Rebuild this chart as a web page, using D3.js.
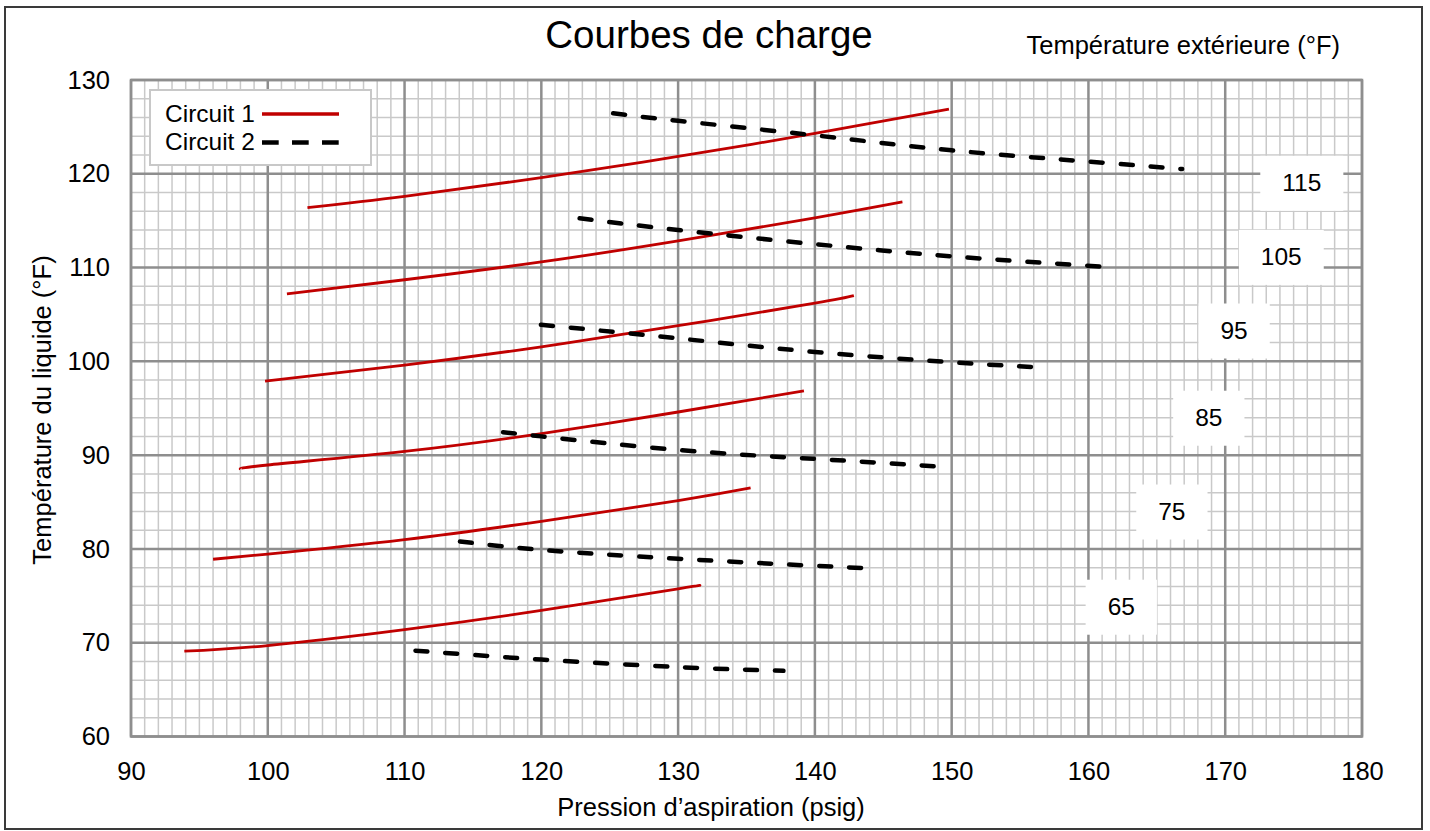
<!DOCTYPE html>
<html>
<head>
<meta charset="utf-8">
<script src="https://cdn.jsdelivr.net/npm/d3@7"></script>
<style>
  html, body { margin: 0; padding: 0; background: #fff; }
  svg { display: block; }
  text { font-family: "Liberation Sans", Arial, sans-serif; fill: #000; }
</style>
</head>
<body>
<svg id="chart" width="1430" height="831"></svg>
<script>
// ---------------- data ----------------
const title = "Courbes de charge";
const xTitle = "Pression d\u2019aspiration (psig)";
const yTitle = "Température du liquide (°F)";
const labelTitle = "Température extérieure (°F)";
const seriesNames = ["Circuit 1", "Circuit 2"];

const xTicks = [90, 100, 110, 120, 130, 140, 150, 160, 170, 180];
const yTicks = [60, 70, 80, 90, 100, 110, 120, 130];

const outdoorTemps = [65, 75, 85, 95, 105, 115];
// label anchor in data units (pressure, liquid temperature)
const labelX = [162.4, 166.1, 168.8, 170.65, 174.1, 175.6];
const labelY = [73.9, 84.05, 94.05, 103.35, 111.2, 119.1];

// Circuit 1 (solid red) : [pressure, liquid temp]
const circuit1_65  = [[93.9, 69.1], [100, 69.7], [110, 71.4], [120, 73.45], [130, 75.75], [131.35, 76.05]];
const circuit1_75  = [[96.0, 78.9], [100, 79.45], [110, 81.0], [120, 82.95], [130, 85.15], [135.3, 86.5]];
const circuit1_85  = [[98.0, 88.5], [100, 88.95], [110, 90.4], [120, 92.3], [130, 94.6], [139.2, 96.85]];
const circuit1_95  = [[99.8, 97.9], [110, 99.6], [120, 101.55], [130, 103.8], [140, 106.2], [142.85, 107.0]];
const circuit1_105 = [[101.4, 107.2], [110, 108.7], [120, 110.6], [130, 112.85], [140, 115.3], [146.4, 117.0]];
const circuit1_115 = [[102.9, 116.4], [110, 117.6], [120, 119.6], [130, 121.85], [140, 124.3], [149.8, 126.9]];

// Circuit 2 (dashed black)
const circuit2_65  = [[110.8, 69.15], [120, 68.2], [130, 67.4], [137.7, 67.0]];
const circuit2_75  = [[114.05, 80.8], [120, 79.9], [130, 78.95], [140, 78.2], [143.6, 77.95]];
const circuit2_85  = [[117.2, 92.45], [120, 92.0], [130, 90.55], [140, 89.6], [148.85, 88.8]];
const circuit2_95  = [[119.97, 103.9], [130, 102.45], [140, 101.0], [150, 99.9], [155.8, 99.4]];
const circuit2_105 = [[122.8, 115.25], [130, 114.0], [140, 112.5], [150, 111.2], [160.95, 110.1]];
const circuit2_115 = [[125.25, 126.45], [130, 125.65], [140, 124.1], [150, 122.5], [160, 121.3], [166.85, 120.5]];

const circuit1 = [circuit1_65, circuit1_75, circuit1_85, circuit1_95, circuit1_105, circuit1_115];
const circuit2 = [circuit2_65, circuit2_75, circuit2_85, circuit2_95, circuit2_105, circuit2_115];

// ---------------- drawing ----------------
const W = 1430, H = 831;
const m = { left: 131, right: 1362, top: 80, bottom: 736.5 };
const FONT = "Liberation Sans, Arial, sans-serif";
const RED = "#c00000";
const MAJOR = "#8e8e8e", MINOR = "#c9c9c9";
const FS = 25.5;

const svg = d3.select("#chart");
svg.append("rect").attr("width", W).attr("height", H).attr("fill", "#fff");
// outer frame
svg.append("rect").attr("x", 5).attr("y", 7).attr("width", 1417).attr("height", 822)
  .attr("fill", "none").attr("stroke", "#3a3a3a").attr("stroke-width", 2);

const x = d3.scaleLinear().domain([90, 180]).range([m.left, m.right]);
const y = d3.scaleLinear().domain([60, 130]).range([m.bottom, m.top]);

// grid
const g = svg.append("g");
const minorX = d3.range(91, 180, 1).filter(v => v % 10 !== 0);
const minorY = d3.range(62, 130, 2).filter(v => v % 10 !== 0);
g.selectAll(".mx").data(minorX).join("line")
  .attr("x1", d => x(d)).attr("x2", d => x(d)).attr("y1", m.top).attr("y2", m.bottom)
  .attr("stroke", MINOR).attr("stroke-width", 1.5);
g.selectAll(".my").data(minorY).join("line")
  .attr("y1", d => y(d)).attr("y2", d => y(d)).attr("x1", m.left).attr("x2", m.right)
  .attr("stroke", MINOR).attr("stroke-width", 1.5);
g.selectAll(".Mx").data(xTicks).join("line")
  .attr("x1", d => x(d)).attr("x2", d => x(d)).attr("y1", m.top).attr("y2", m.bottom)
  .attr("stroke", MAJOR).attr("stroke-width", 2.5);
g.selectAll(".My").data(yTicks).join("line")
  .attr("y1", d => y(d)).attr("y2", d => y(d)).attr("x1", m.left).attr("x2", m.right)
  .attr("stroke", MAJOR).attr("stroke-width", 2.5);
g.append("rect").attr("x", m.left).attr("y", m.top)
  .attr("width", m.right - m.left).attr("height", m.bottom - m.top)
  .attr("fill", "none").attr("stroke", MAJOR).attr("stroke-width", 2.5);

// axes (labels only)
const xAxis = svg.append("g").attr("transform", `translate(0,${m.bottom})`)
  .call(d3.axisBottom(x).tickValues(xTicks).tickSize(0).tickPadding(25).tickFormat(d3.format("d")));
const yAxis = svg.append("g").attr("transform", `translate(${m.left},0)`)
  .call(d3.axisLeft(y).tickValues(yTicks).tickSize(0).tickPadding(21).tickFormat(d3.format("d")));
[xAxis, yAxis].forEach(a => {
  a.select(".domain").remove();
  a.attr("font-family", FONT).attr("font-size", FS);
  a.selectAll("text").attr("fill", "#000");
});

// label boxes (white) + temperature labels
const lab = svg.append("g");
outdoorTemps.forEach((t, i) => {
  const cx = x(labelX[i]), cy = y(labelY[i]);
  const txt = lab.append("text").attr("x", cx).attr("y", cy).attr("dy", "0.35em")
    .attr("text-anchor", "middle").attr("font-size", 24.5).text(t);
  const bb = txt.node().getBBox();
  const padX = 22, padY = 14;
  lab.insert("rect", "text").attr("x", bb.x - padX).attr("y", bb.y - padY + 1)
    .attr("width", bb.width + 2 * padX).attr("height", bb.height + 2 * padY)
    .attr("fill", "#fff");
});

// curves
const line = d3.line().x(d => x(d[0])).y(d => y(d[1])).curve(d3.curveNatural);
svg.append("g").selectAll("path").data(circuit1).join("path")
  .attr("d", line).attr("fill", "none").attr("stroke", RED).attr("stroke-width", 2.8);
svg.append("g").selectAll("path").data(circuit2).join("path")
  .attr("d", line).attr("fill", "none").attr("stroke", "#000").attr("stroke-width", 4.5)
  .attr("stroke-dasharray", "12,18").attr("stroke-linecap", "round");

// legend
const lg = svg.append("g");
lg.append("rect").attr("x", 150).attr("y", 90).attr("width", 221).attr("height", 75)
  .attr("fill", "#fff").attr("stroke", "#c8c8c8").attr("stroke-width", 2);
seriesNames.forEach((n, i) => {
  const yy = 113 + i * 28.5;
  lg.append("text").attr("x", 165).attr("y", yy).attr("dy", "0.35em")
    .attr("font-size", 24.5).text(n);
  const l = lg.append("line").attr("x1", 262).attr("x2", 339).attr("y1", yy + 1).attr("y2", yy + 1);
  if (i === 0) l.attr("stroke", RED).attr("stroke-width", 3.5);
  else l.attr("stroke", "#000").attr("stroke-width", 4.5).attr("stroke-dasharray", "16.7,13.3");
});

// titles
svg.append("text").attr("x", 709).attr("y", 48).attr("text-anchor", "middle")
  .attr("font-size", 38.5).text(title);
svg.append("text").attr("x", 1340).attr("y", 54).attr("text-anchor", "end")
  .attr("font-size", FS).text(labelTitle);
svg.append("text").attr("x", 711).attr("y", 816).attr("text-anchor", "middle")
  .attr("font-size", FS).text(xTitle);
svg.append("text").attr("transform", "translate(51,410) rotate(-90)")
  .attr("text-anchor", "middle").attr("font-size", FS).text(yTitle);
</script>
</body>
</html>
